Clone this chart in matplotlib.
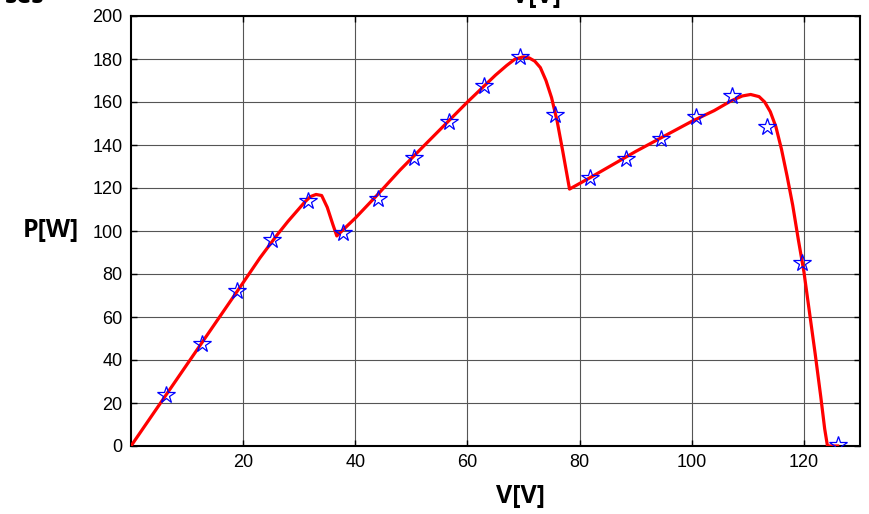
import numpy as np
import matplotlib
matplotlib.use('Agg')
import matplotlib.pyplot as plt

# measured points (stars)
v_meas = [6.3, 12.6, 18.9, 25.2, 31.5, 37.8, 44.1, 50.4, 56.7, 63.0,
          69.3, 75.6, 81.9, 88.2, 94.5, 100.8, 107.1, 113.4, 119.7, 126.0]
p_meas = [23.7, 47.4, 72.0, 95.8, 114.0, 99.0, 115.0, 134.0, 150.7, 167.4,
          181.0, 154.0, 124.7, 133.5, 142.8, 153.0, 163.0, 148.4, 85.0, 0.5]

# P-V curve (red)
v_curve = [0, 5, 10, 15, 20, 23, 26, 28, 30, 31, 32, 33, 34, 35, 36, 36.7,
           38, 40, 44, 48, 52, 56, 60, 63, 65, 67, 68.5, 70, 71, 72, 73, 74,
           75, 76, 77, 78.2,
           82, 86, 90, 95, 100, 104, 107, 109, 110.5, 112, 113, 114, 115, 116,
           117, 118, 119, 120, 121, 122, 123, 123.7, 124.2, 126]
p_curve = [0, 19, 38, 57, 76, 87.5, 98, 104.5, 110.5, 113.5, 116, 117, 116.5, 111, 103, 97.7,
           101, 106, 117, 128.4, 139, 149.5, 160, 167.5, 172.5, 177, 180, 181, 180.5, 179, 176, 170,
           162, 151, 137, 119.5,
           125, 131, 137, 144, 151, 156, 160.5, 162.8, 163.5, 162.5, 160, 155.5, 148.5, 138,
           125.5, 112, 96, 81, 62, 43, 23, 8, 0, 0]

fig = plt.figure(figsize=(8.69, 5.14), dpi=100)
ax = fig.add_axes([131/869, 1-446/514, (860-131)/869, (446-16)/514])

ax.plot(v_curve, p_curve, color='red', lw=2.3, zorder=3)
ax.plot(v_meas, p_meas, ls='none', marker='*', ms=13, mfc='none', mec='blue',
        mew=0.9, zorder=4)

ax.set_xlim(0, 130)
ax.set_ylim(0, 200)
ax.set_xticks([20, 40, 60, 80, 100, 120])
ax.set_yticks(np.arange(0, 201, 20))
ax.grid(True, color='#555555', lw=0.8)
ax.set_axisbelow(True)
ax.tick_params(direction='in', top=True, right=True, length=4, width=1,
               labelsize=13, pad=6)
for lab in ax.get_xticklabels() + ax.get_yticklabels():
    lab.set_family('Liberation Sans')
for s in ax.spines.values():
    s.set_linewidth(1.5)

fig.text(51/869, 1-230/514, 'P[W]', ha='center', va='center',
         fontsize=18, fontweight='bold', family='Open Sans')
fig.text(521/869, 1-496/514, 'V[V]', ha='center', va='center',
         fontsize=18, fontweight='bold', family='Open Sans')

# cut-off text from the figure above
fig.text(45/869, 1-3/514, 'ses', ha='right', va='baseline',
         fontsize=18, fontweight='bold', family='Open Sans')
fig.text(537/869, 1-3/514, 'V[V]', ha='center', va='baseline',
         fontsize=18, fontweight='bold', family='Open Sans')

fig.savefig('out.png', dpi=100)
